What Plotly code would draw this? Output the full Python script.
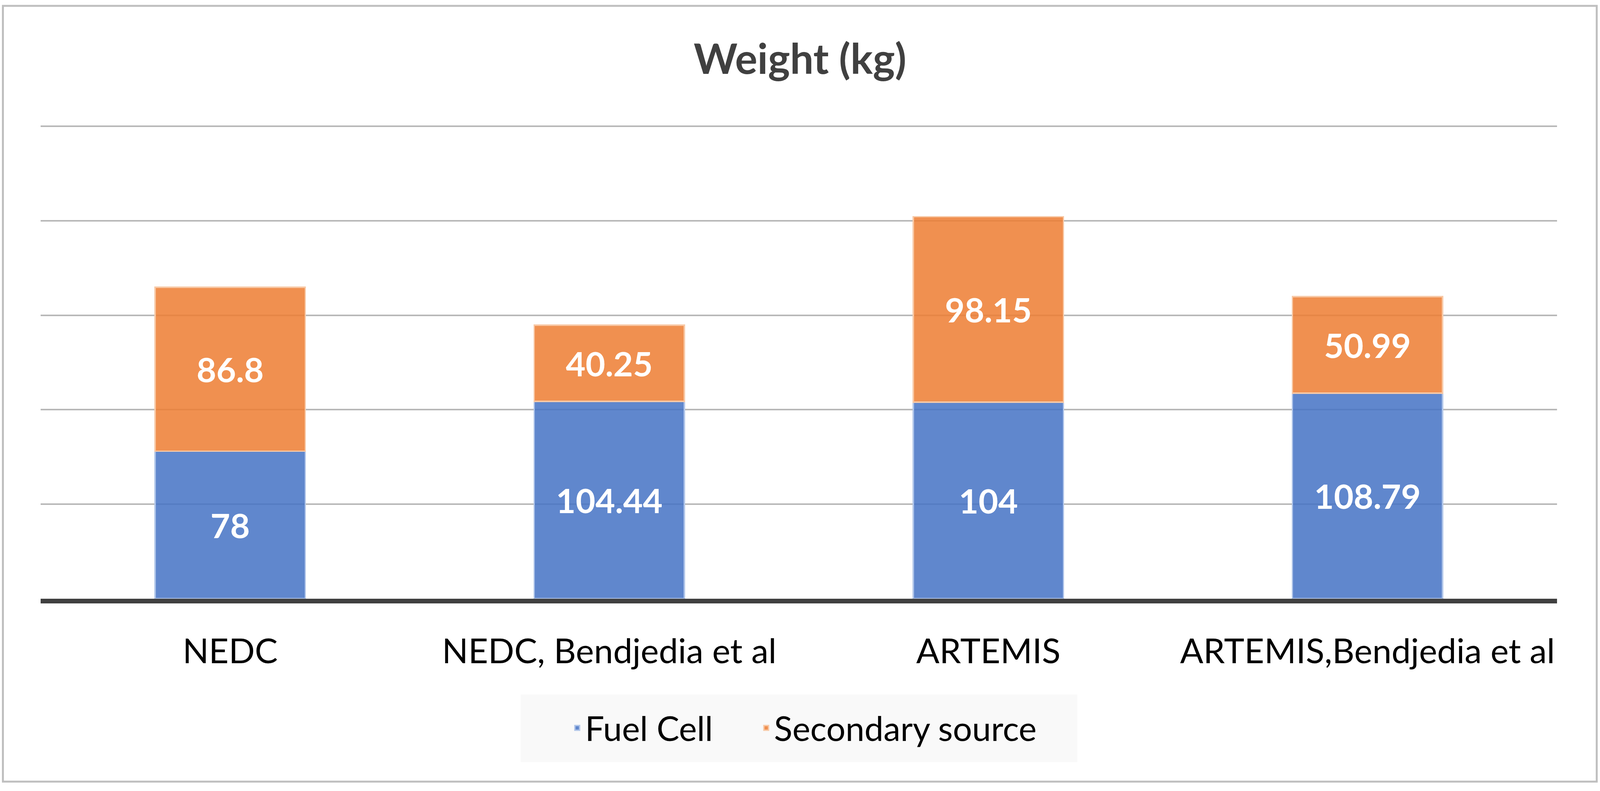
import plotly.graph_objects as go

# ---- data ----
categories = ["NEDC", "NEDC, Bendjedia et al", "ARTEMIS", "ARTEMIS,Bendjedia et al"]
fuel_cell = [78, 104.44, 104, 108.79]
secondary_source = [86.8, 40.25, 98.15, 50.99]
series_names = ["Fuel Cell", "Secondary source"]
y_ticks = [0, 50, 100, 150, 200, 250]
title_text = "Weight (kg)"

# ---- layout geometry ----
# The browser viewport is 4096 px wide; reference positions (measured on a
# 4403 px wide image) are mapped horizontally by SX.
REF_W = 4403
W, H = 4096, 2024
SX = W / REF_W


def rx(x):
    return x * SX


L, R, T, B = round(rx(112)), round(W - rx(4285)), 318, 492
PW, PH = W - L - R, H - T - B


def px_x(x_ref):
    return (rx(x_ref) - L) / PW


def px_y(y):
    return (H - B - y) / PH


FONT = "Lato, Carlito, Calibri, sans-serif"

fig = go.Figure()
fig.add_trace(go.Bar(
    name=series_names[0] + "\u00a0" * 5, x=categories, y=fuel_cell,
    text=[f"{v:g}" for v in fuel_cell],
    marker=dict(color="rgba(68,114,196,0.85)",
                line=dict(color="#B0C5E9", width=3.5)),
))
fig.add_trace(go.Bar(
    name=series_names[1], x=categories, y=secondary_source,
    text=[f"{v:g}" for v in secondary_source],
    marker=dict(color="rgba(237,125,49,0.85)",
                line=dict(color="#F8C9A6", width=3.5)),
))
fig.update_traces(
    textposition="inside", insidetextanchor="middle", textangle=0,
    constraintext="none",
    textfont=dict(family=FONT, size=87, color="white", weight="bold"),
    hoverinfo="skip",
)

fig.update_layout(
    width=W, height=H,
    margin=dict(l=L, r=R, t=T, b=B, pad=0),
    barmode="stack", bargap=0.604,
    paper_bgcolor="white", plot_bgcolor="white",
    title=dict(text=f"<b>{title_text}</b>", x=0.5, xanchor="center",
               xref="container", y=1 - 152 / H, yanchor="middle",
               yref="container",
               font=dict(family=FONT, size=107, color="#404040")),
    font=dict(family=FONT, color="black"),
    legend=dict(orientation="h", x=px_x(2213), xanchor="center",
                y=px_y(1863), yanchor="middle",
                bgcolor="rgba(0,0,0,0)",
                font=dict(family=FONT, size=87, color="black"),
                traceorder="normal"),
    xaxis=dict(showline=True, linecolor="#404040", linewidth=12,
               ticks="outside", ticklen=47, tickcolor="rgba(0,0,0,0)",
               tickfont=dict(family=FONT, size=88, color="black"),
               showgrid=False, zeroline=False, fixedrange=True),
    yaxis=dict(range=[0, 251], tickvals=y_ticks, showticklabels=False,
               showgrid=True, gridcolor="#B8B8B8", gridwidth=4,
               zeroline=False, showline=False, fixedrange=True),
    shapes=[
        # legend background box
        dict(type="rect", xref="paper", yref="paper", layer="below",
             x0=px_x(1433), x1=px_x(2965), y0=px_y(1777), y1=px_y(1950),
             fillcolor="#F9F9F9", line=dict(width=0)),
        # outer chart border
        dict(type="rect", xref="paper", yref="paper", layer="below",
             x0=px_x(8), x1=px_x(4394), y0=px_y(15), y1=px_y(2000),
             fillcolor="rgba(0,0,0,0)", line=dict(color="#BFBFBF", width=5)),
    ],
)

post = "document.body.style.margin='0';document.body.style.overflow='hidden';"
fig.write_html("out.html", config={"displayModeBar": False}, post_script=post)
